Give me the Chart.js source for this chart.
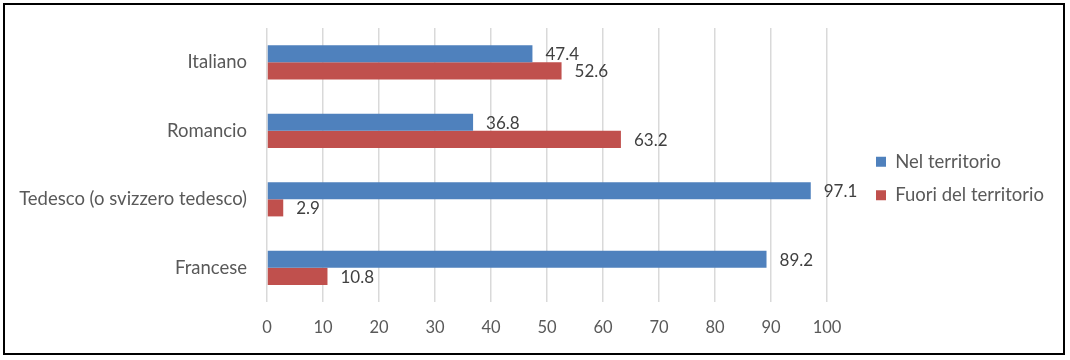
<!DOCTYPE html>
<html>
<head>
<meta charset="utf-8">
<script src="https://cdn.jsdelivr.net/npm/chart.js@4"></script>
<style>
  html, body { margin: 0; padding: 0; background: #fff; }
  #box { position: absolute; left: 3px; top: 3px; width: 1058px; height: 348px; border: 2px solid #000; }
</style>
</head>
<body>
<div id="box"><canvas id="chart" width="1058" height="348"></canvas></div>
<script>
var categories = ["Italiano", "Romancio", "Tedesco (o svizzero tedesco)", "Francese"];
var nelTerritorio = [47.4, 36.8, 97.1, 89.2];
var fuoriTerritorio = [52.6, 63.2, 2.9, 10.8];
var xTicks = [0, 10, 20, 30, 40, 50, 60, 70, 80, 90, 100];

var FONT = "Lato, 'Open Sans', sans-serif";

// valori a fine barra
var barLabels = {
  id: 'barLabels',
  afterDatasetsDraw: function(chart) {
    var c = chart.ctx;
    c.save();
    c.font = "17px " + FONT;
    c.fillStyle = "#404040";
    c.textAlign = "left";
    c.textBaseline = "middle";
    chart.data.datasets.forEach(function(ds, i) {
      chart.getDatasetMeta(i).data.forEach(function(bar, j) {
        c.fillText(ds.data[j].toFixed(1), bar.x + 13, bar.y + 1);
      });
    });
    c.restore();
  }
};

// legenda a destra: larghezza fissa e spostata
var legendPlace = {
  id: 'legendPlace',
  afterInit: function(chart) {
    var lg = chart.legend;
    var fit = lg.fit;
    lg.fit = function() {
      fit.call(this);
      this.width = 226;
    };
  },
  afterLayout: function(chart) {
    var lg = chart.legend;
    lg.left += 34; lg.right += 34;
    lg.top -= 12; lg.bottom -= 12;
  }
};

var ctx = document.getElementById("chart");
var chart = new Chart(ctx, {
  type: 'bar',
  data: {
    labels: categories,
    datasets: [{
      label: "Nel territorio",
      data: nelTerritorio,
      backgroundColor: '#4F81BD',
      categoryPercentage: 0.5,
      barPercentage: 1.0
    }, {
      label: "Fuori del territorio",
      data: fuoriTerritorio,
      backgroundColor: '#C0504D',
      categoryPercentage: 0.5,
      barPercentage: 1.0
    }]
  },
  options: {
    indexAxis: 'y',
    responsive: false,
    animation: false,
    layout: { padding: { left: 0, right: 10, top: 23, bottom: 0 } },
    scales: {
      x: {
        min: 0,
        max: 100,
        afterBuildTicks: function(s) { s.ticks = xTicks.map(function(v) { return { value: v }; }); },
        grid: { color: '#d9d9d9', lineWidth: 1.5, drawTicks: false },
        border: { display: false },
        ticks: { padding: 16, color: '#595959', font: { family: FONT, size: 16.5 } },
        afterFit: function(s) { s.height = 51; }
      },
      y: {
        grid: { display: false },
        border: { display: false },
        ticks: { padding: 12, color: '#595959', font: { family: FONT, size: 18.5 } },
        afterFit: function(s) { s.width = 262; }
      }
    },
    plugins: {
      legend: {
        position: 'right',
        labels: {
          boxWidth: 10,
          boxHeight: 10,
          padding: 15,
          color: '#595959',
          font: { family: FONT, size: 18.5 }
        }
      },
      tooltip: { enabled: false }
    }
  },
  plugins: [barLabels, legendPlace]
});
</script>
</body>
</html>
